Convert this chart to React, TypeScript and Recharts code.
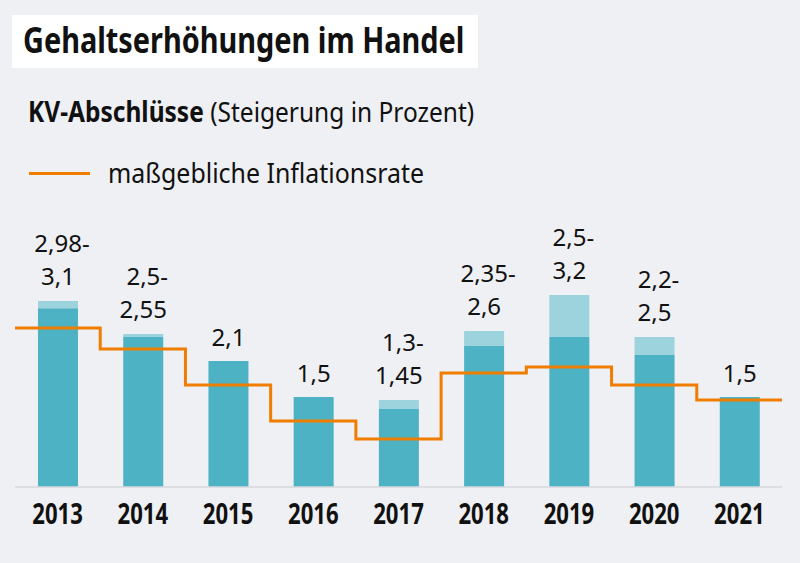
import { ComposedChart, Bar, Line, XAxis, YAxis, LabelList } from 'recharts';

const YEARS = ['2013', '2014', '2015', '2016', '2017', '2018', '2019', '2020', '2021'];
const KV_LOW = [2.98, 2.5, 2.1, 1.5, 1.3, 2.35, 2.5, 2.2, 1.5];
const KV_HIGH = [3.1, 2.55, 2.1, 1.5, 1.45, 2.6, 3.2, 2.5, 1.5];
const INFLATION = [2.65, 2.3, 1.7, 1.1, 0.8, 1.9, 2.0, 1.7, 1.45];

const FONT = '"Noto Sans", sans-serif';
const BG = '#eff0f4';
const DARK = '#4db2c4';
const LIGHT = '#9dd3dd';
const ORANGE = '#f07c00';

const fmt = (v: number) => String(v).replace('.', ',');

const data = YEARS.map((y, i) => ({
  year: y,
  low: KV_LOW[i],
  range: +(KV_HIGH[i] - KV_LOW[i]).toFixed(2),
  high: KV_HIGH[i],
  idx: i,
}));

// one extra point so the step reaches the right edge of the last band
const lineData = [...INFLATION, INFLATION[INFLATION.length - 1]].map((v, i) => ({ x: i, v }));

const RangeLabel = (props: any) => {
  const { x, y, width, value } = props;
  const cx = x + width / 2;
  const lo = KV_LOW[value];
  const hi = KV_HIGH[value];
  const st = { fontFamily: FONT, fontStretch: '75%', fontSize: 24, fill: '#111' };
  if (hi > lo) {
    return (
      <g>
        <text x={cx + 4} y={y - 49} textAnchor="middle" style={st}>{fmt(lo) + '-'}</text>
        <text x={cx} y={y - 16} textAnchor="middle" style={st}>{fmt(hi)}</text>
      </g>
    );
  }
  return <text x={cx} y={y - 15} textAnchor="middle" style={st}>{fmt(hi)}</text>;
};

const YearTick = (props: any) => {
  const { x, y, payload } = props;
  return (
    <text
      transform={`translate(${x},${y + 29}) scale(0.79,1)`}
      textAnchor="middle"
      style={{ fontFamily: FONT, fontStretch: '75%', fontSize: 28, fontWeight: 'bold', fill: '#111' }}
    >
      {payload.value}
    </text>
  );
};

const squeeze = (s: number) => ({ transform: `scaleX(${s})`, transformOrigin: 'left top', whiteSpace: 'nowrap' as const });

export default function App() {
  return (
    <div
      style={{
        position: 'absolute', left: 0, top: 0, width: 800, height: 563,
        background: BG, fontFamily: FONT, fontStretch: '75%', color: '#111',
      }}
    >
      <div style={{ position: 'absolute', left: 12, top: 15, width: 466, height: 53, background: '#fff' }} />
      <div style={{ position: 'absolute', left: 23, top: 16, fontSize: 35, fontWeight: 'bold', lineHeight: '48px', ...squeeze(0.825) }}>
        Gehaltserhöhungen im Handel
      </div>
      <div style={{ position: 'absolute', left: 28, top: 95, fontSize: 28, lineHeight: '32px', ...squeeze(0.875) }}>
        <b>KV-Abschlüsse</b> (Steigerung in Prozent)
      </div>
      <div style={{ position: 'absolute', left: 29, top: 172, width: 61, height: 3, background: ORANGE }} />
      <div style={{ position: 'absolute', left: 108, top: 156, fontSize: 28, lineHeight: '32px', ...squeeze(0.89) }}>
        maßgebliche Inflationsrate
      </div>

      <ComposedChart
        width={800}
        height={563}
        data={data}
        margin={{ top: 247, right: 18, bottom: 0, left: 15 }}
        style={{ position: 'absolute', left: 0, top: 0 }}
      >
        <XAxis
          xAxisId="cat"
          dataKey="year"
          axisLine={{ stroke: '#d6d9df', strokeWidth: 1.5 }}
          tickLine={false}
          tick={<YearTick />}
          interval={0}
          height={76}
        />
        <XAxis xAxisId="lab" dataKey="year" hide />
        <XAxis xAxisId="inf" type="number" dataKey="x" domain={[0, 9]} hide allowDataOverflow />
        <YAxis domain={[0, 4]} hide />
        <Line
          xAxisId="inf"
          data={lineData}
          dataKey="v"
          type="stepAfter"
          stroke={ORANGE}
          strokeWidth={3}
          dot={false}
          activeDot={false}
          isAnimationActive={false}
        />
        <Bar xAxisId="cat" dataKey="low" stackId="kv" fill={DARK} barSize={40} isAnimationActive={false} />
        <Bar xAxisId="cat" dataKey="range" stackId="kv" fill={LIGHT} barSize={40} isAnimationActive={false} />
        <Bar xAxisId="lab" dataKey="high" fill="none" barSize={40} isAnimationActive={false}>
          <LabelList dataKey="idx" content={<RangeLabel />} />
        </Bar>
      </ComposedChart>
    </div>
  );
}
